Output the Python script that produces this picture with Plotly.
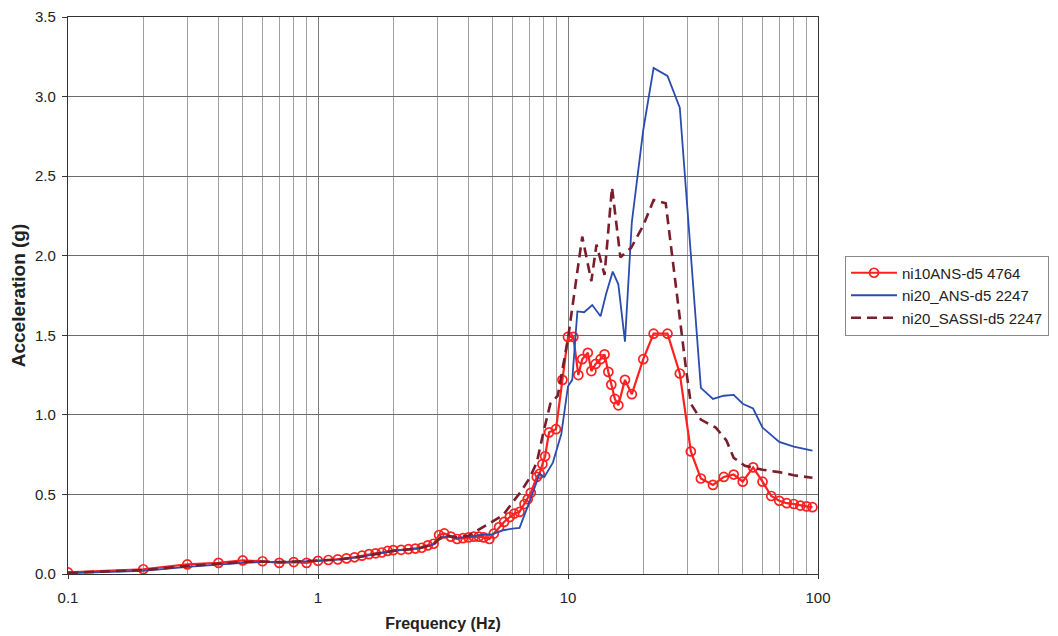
import plotly.graph_objects as go

# ---- data ----
red_f = [0.1, 0.2, 0.3, 0.4, 0.5, 0.6, 0.7, 0.8, 0.9, 1.0,
         1.1, 1.2, 1.3, 1.4, 1.5, 1.6, 1.7, 1.8, 1.9, 2.0,
         2.15, 2.3, 2.45, 2.6, 2.75, 2.9, 3.05, 3.2, 3.4, 3.6,
         3.8, 4.0, 4.2, 4.4, 4.6, 4.85, 5.05, 5.3, 5.55, 5.85,
         6.1, 6.4, 6.7, 6.9, 7.1, 7.5, 7.7, 7.9, 8.1, 8.4,
         8.95, 9.5, 10.0, 10.5, 11.0, 11.4, 12.0, 12.4, 12.9, 13.5,
         14.0, 14.5, 14.9, 15.4, 15.9, 16.9, 18.0, 20.0, 22.0, 25.0,
         28.0, 31.0, 34.0, 38.0, 42.0, 46.0, 50.0, 55.0, 60.0, 65.0,
         70.0, 75.0, 80.0, 85.0, 90.0, 95.0]
red_a = [0.01, 0.03, 0.06, 0.07, 0.085, 0.08, 0.07, 0.075, 0.07, 0.083,
         0.088, 0.092, 0.098, 0.105, 0.115, 0.125, 0.13, 0.135, 0.145, 0.15,
         0.152, 0.156, 0.16, 0.165, 0.18, 0.19, 0.245, 0.255, 0.235, 0.22,
         0.225, 0.23, 0.235, 0.235, 0.23, 0.22, 0.254, 0.295, 0.327, 0.358,
         0.38, 0.39, 0.44, 0.47, 0.51, 0.61, 0.63, 0.69, 0.74, 0.89,
         0.91, 1.22, 1.49, 1.49, 1.25, 1.35, 1.39, 1.275, 1.32, 1.35,
         1.38, 1.27, 1.19, 1.10, 1.06, 1.22, 1.13, 1.35, 1.51, 1.51,
         1.26, 0.77, 0.60, 0.56, 0.61, 0.625, 0.58, 0.67, 0.58, 0.49,
         0.46, 0.445, 0.44, 0.43, 0.425, 0.42]

blue_f = [0.1, 0.2, 0.3, 0.4, 0.5, 0.6, 0.7, 0.8, 0.9, 1.0,
          1.2, 1.5, 2.0, 2.5, 2.9, 3.1, 3.3, 3.6, 4.0, 4.5,
          5.0, 5.5, 6.0, 6.4, 7.0, 7.7, 8.04, 8.7, 9.4, 10.0,
          10.4, 10.9, 11.6, 12.5, 13.5, 14.2, 15.1, 15.9, 16.9, 18.0,
          20.0, 22.0, 25.0, 28.0, 34.0, 38.0, 42.0, 46.0, 50.0, 55.0,
          60.0, 65.0, 70.0, 80.0, 90.0, 95.0]
blue_a = [0.005, 0.02, 0.045, 0.06, 0.07, 0.075, 0.075, 0.078, 0.08, 0.085,
          0.09, 0.11, 0.145, 0.16, 0.185, 0.23, 0.235, 0.225, 0.235, 0.245,
          0.25, 0.275, 0.285, 0.29, 0.45, 0.63, 0.61, 0.70, 0.88, 1.18,
          1.22, 1.65, 1.645, 1.69, 1.62, 1.76, 1.90, 1.82, 1.46, 2.21,
          2.79, 3.18, 3.13, 2.93, 1.17, 1.10, 1.12, 1.125, 1.07, 1.04,
          0.92, 0.87, 0.83, 0.80, 0.785, 0.775]

sassi_f = [0.1, 0.2, 0.3, 0.4, 0.5, 0.6, 0.7, 0.8, 0.9, 1.0,
           1.2, 1.5, 2.0, 2.5, 2.9, 3.1, 3.3, 3.6, 4.0, 4.5,
           5.0, 5.5, 6.0, 6.5, 7.0, 7.5, 8.0, 8.5, 9.1, 10.0,
           11.4, 12.4, 13.0, 14.0, 15.0, 16.2, 17.9, 20.0, 22.0, 24.6,
           29.7, 31.0, 34.0, 39.0, 43.0, 46.0, 51.0, 60.0, 70.0, 80.0,
           95.0]
sassi_a = [0.007, 0.025, 0.05, 0.065, 0.075, 0.078, 0.075, 0.078, 0.08, 0.085,
           0.09, 0.11, 0.145, 0.16, 0.185, 0.23, 0.24, 0.23, 0.24, 0.29,
           0.33, 0.37, 0.45, 0.52, 0.60, 0.70, 0.90, 1.07, 1.12, 1.48,
           2.12, 1.84, 2.07, 1.88, 2.43, 1.99, 2.05, 2.19, 2.35, 2.33,
           1.28, 1.07, 0.97, 0.92, 0.84, 0.73, 0.68, 0.655, 0.64, 0.62,
           0.605]

names = ["ni10ANS-d5 4764", "ni20_ANS-d5 2247", "ni20_SASSI-d5 2247"]

fig = go.Figure()
fig.add_trace(go.Scatter(
    x=red_f, y=red_a, name=names[0], mode="lines+markers",
    line=dict(color="#ff2020", width=2.2),
    marker=dict(symbol="circle-open", size=9, color="#ff2020", line=dict(width=1.7))))
fig.add_trace(go.Scatter(
    x=blue_f, y=blue_a, name=names[1], mode="lines",
    line=dict(color="#2a4cb0", width=1.8)))
fig.add_trace(go.Scatter(
    x=sassi_f, y=sassi_a, name=names[2], mode="lines",
    line=dict(color="#7a1e2c", width=2.6, dash="10px,6px")))

font = "Liberation Sans, Arial, sans-serif"
fig.update_layout(
    width=1050, height=628,
    margin=dict(l=60, r=240, t=9, b=62, autoexpand=False),
    paper_bgcolor="white", plot_bgcolor="white",
    font=dict(family=font, size=15, color="#222"),
    showlegend=True,
    legend=dict(x=1.036, y=0.50, xanchor="left", yanchor="middle",
                bordercolor="#888", borderwidth=1, bgcolor="white",
                font=dict(size=15), tracegroupgap=0, itemwidth=46),
    xaxis=dict(
        type="log", range=[-1, 2], dtick=1, automargin=False,
        showgrid=True, gridcolor="#7c7c7c", gridwidth=1,
        minor=dict(dtick="D1", showgrid=True, gridcolor="#a0a0a0", gridwidth=1, ticks=""),
        showline=True, linecolor="#333", linewidth=1.2, mirror=True,
        ticks="outside", ticklen=4, tickcolor="#333", ticklabelstandoff=6,
        tickfont=dict(size=15),
        title=dict(text="<b>Frequency (Hz)</b>", font=dict(size=16), standoff=12),
        zeroline=False),
    yaxis=dict(
        range=[0, 3.5], dtick=0.5, tickformat=".1f", automargin=False,
        showgrid=True, gridcolor="#6a6a6a", gridwidth=1,
        showline=True, linecolor="#333", linewidth=1.2, mirror=True,
        ticks="outside", ticklen=5, tickcolor="#333", ticklabelstandoff=3,
        tickfont=dict(size=15),
        title=dict(text="<b>Acceleration (g)</b>", font=dict(size=19), standoff=9),
        zeroline=False),
)

fig.write_html("out.html")
